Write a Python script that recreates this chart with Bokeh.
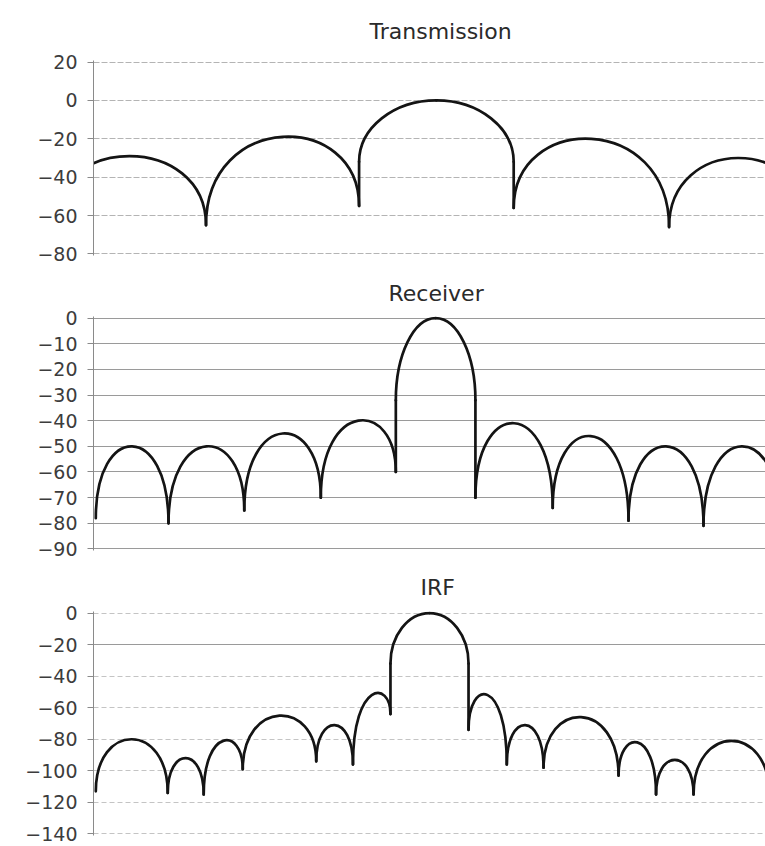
from bokeh.plotting import figure
from bokeh.layouts import column
from bokeh.models import Range1d, FixedTicker, ColumnDataSource, Grid
from bokeh.embed import file_html
from bokeh.resources import INLINE

# ---- values (x in null-spacing units, y in dB) ----
# Transmission: null positions / depths and the level of each lobe between them
trans_null_x = [-5.0, -3.0, -1.0, 1.02, 3.05, 4.85]
trans_null_db = [-65, -65, -55, -56, -66, -65]
trans_peak_db = [-29, -19, 0, -20, -30]
trans_ticks = [20, 0, -20, -40, -60, -80]
trans_labels = ["20", "0", "\u221220", "\u221240", "\u221260", "\u221280"]

# Receiver
recv_null_x = [-4.44, -3.49, -2.50, -1.50, -0.52, 0.52, 1.53, 2.52, 3.50, 4.50]
recv_null_db = [-78, -80, -75, -70, -60, -70, -74, -79, -81, -80]
recv_peak_db = [-50, -50, -45, -40, 0, -41, -46, -50, -50]
recv_ticks = [0, -10, -20, -30, -40, -50, -60, -70, -80, -90]
recv_labels = ["0", "\u221210", "\u221220", "\u221230", "\u221240",
               "\u221250", "\u221260", "\u221270", "\u221280", "\u221290"]

# IRF
irf_null_x = [-4.44, -3.50, -3.03, -2.52, -1.56, -1.08, -0.59,
              0.43, 0.93, 1.41, 2.39, 2.88, 3.37, 4.36]
irf_null_db = [-113, -114, -115, -99, -94, -96, -64,
               -74, -96, -98, -103, -115, -115, -115]
irf_peak_db = [-80, -92, -81, -65, -71, -52, 0, -52, -71, -66, -82, -93, -81]
irf_ticks = [0, -20, -40, -60, -80, -100, -120, -140]
irf_labels = ["0", "\u221220", "\u221240", "\u221260", "\u221280",
              "\u2212100", "\u2212120", "\u2212140"]

X_RANGE = (-4.47, 4.31)
FONT = "DejaVu Sans"
MAIN_DOME_DB = 32.0   # rounded cap of the main lobe; below it the sides drop straight
KAPPA = 0.5523        # cubic approximation of a quarter ellipse

BEZ_KEYS = ("x0", "y0", "x1", "y1", "cx0", "cy0", "cx1", "cy1")


def lobe_sources(null_x, null_db, peak_db):
    seg = {k: [] for k in ("x0", "y0", "x1", "y1")}
    bez = {k: [] for k in BEZ_KEYS}

    def add(*vals):
        for k, v in zip(BEZ_KEYS, vals):
            bez[k].append(v)

    main = peak_db.index(max(peak_db))
    for i, yp in enumerate(peak_db):
        xa, ya = null_x[i], null_db[i]
        xb, yb = null_x[i + 1], null_db[i + 1]
        if i != main:
            # side lobe: one arch from null to null that tops out at the lobe level
            c = (8 * yp - ya - yb) / 6.0
            add(xa, ya, xb, yb, xa, c, xb, c)
        else:
            # main lobe: steep straight flanks and an elliptic cap
            xm = 0.5 * (xa + xb)
            for xn, yn in ((xa, ya), (xb, yb)):
                k = min(MAIN_DOME_DB, yp - yn)
                seg["x0"].append(xn); seg["y0"].append(yn)
                seg["x1"].append(xn); seg["y1"].append(yp - k)
                add(xn, yp - k, xm, yp,
                    xn, yp - (1 - KAPPA) * k, xm - KAPPA * (xm - xn), yp)
    return ColumnDataSource(seg), ColumnDataSource(bez)


def panel(title, null_x, null_db, peak_db, ticks, labels, yr, frame_h,
          top, bottom, standoff, offset, grid_color, grid_dash="solid"):
    p = figure(frame_width=672, frame_height=frame_h,
               x_range=Range1d(*X_RANGE), y_range=Range1d(*yr),
               output_backend="svg", toolbar_location=None,
               x_axis_location=None, title=title,
               min_border_left=93, min_border_right=0,
               min_border_top=top, min_border_bottom=bottom)
    p.outline_line_color = None
    p.background_fill_color = "white"
    p.border_fill_color = "white"

    p.title.text_font = FONT
    p.title.text_font_size = "22px"
    p.title.text_font_style = "normal"
    p.title.text_color = "#2a2a2a"
    p.title.align = "left"
    p.title.standoff = standoff
    p.title.offset = offset

    ax = p.yaxis[0]
    ax.ticker = FixedTicker(ticks=ticks)
    ax.major_label_overrides = {t: l for t, l in zip(ticks, labels)}
    ax.major_label_text_font = FONT
    ax.major_label_text_font_size = "19px"
    ax.major_label_text_color = "#3c3c3c"
    ax.axis_line_color = "#8a8a8a"
    ax.major_tick_line_color = "#8a8a8a"
    ax.major_tick_out = 6
    ax.major_tick_in = 0
    ax.minor_tick_out = 0
    ax.minor_tick_in = 0
    ax.major_label_standoff = 10

    p.xgrid.visible = False
    p.ygrid.grid_line_color = grid_color
    p.ygrid.grid_line_width = 1.2
    p.ygrid.grid_line_dash = grid_dash

    seg, bez = lobe_sources(null_x, null_db, peak_db)
    p.segment(x0="x0", y0="y0", x1="x1", y1="y1", source=seg,
              line_color="#141414", line_width=2.7, line_cap="round")
    p.bezier(x0="x0", y0="y0", x1="x1", y1="y1",
             cx0="cx0", cy0="cy0", cx1="cx1", cy1="cy1", source=bez,
             line_color="#141414", line_width=2.7, line_cap="round")
    return p


p1 = panel("Transmission", trans_null_x, trans_null_db, trans_peak_db,
           trans_ticks, trans_labels, (-80.8, 20.8), 195, 59, 10, 33, 276,
           "#b4b4b4", "6 2")
p2 = panel("Receiver", recv_null_x, recv_null_db, recv_peak_db,
           recv_ticks, recv_labels, (-90.6, 0.6), 234, 51, 10, 22, 295,
           "#9a9a9a")
p3 = panel("IRF", irf_null_x, irf_null_db, irf_peak_db,
           irf_ticks, irf_labels, (-141, 1), 224, 51, 11, 24, 327,
           "#c4c4c4", "5 3")
# the -20 dB line of the IRF panel is printed darker and solid in the original
p3.add_layout(Grid(dimension=1, ticker=FixedTicker(ticks=[irf_ticks[1]]),
                   grid_line_color="#9a9a9a", grid_line_width=1.2))

layout = column(p1, p2, p3, spacing=0)
open("out.html", "w").write(file_html(layout, INLINE))
